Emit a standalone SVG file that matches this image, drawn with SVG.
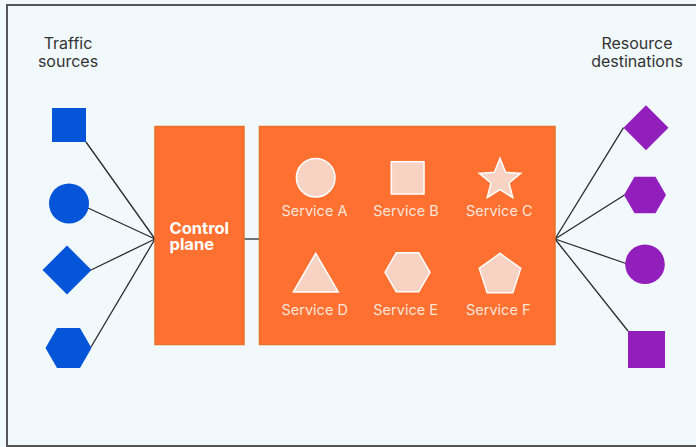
<svg xmlns="http://www.w3.org/2000/svg" width="696" height="447" viewBox="0 0 696 447">
<style>
.lbl{font-family:Inter,"Liberation Sans",sans-serif;font-size:16px;fill:#333;text-anchor:middle}
.svc{font-family:Inter,"Liberation Sans",sans-serif;font-size:14.5px;fill:#fde4d9}
.cp{font-family:Inter,"Liberation Sans",sans-serif;font-size:16.5px;font-weight:700;fill:#fff}
.src{fill:#0455d8}
.dst{fill:#921fbb}
.box{fill:#ff7031;stroke:#e8722a;stroke-width:1.5}
.shp{fill:#f8d3c3;stroke:#fff;stroke-width:1.5}
.ln{stroke:#2a2a2a;stroke-width:1.3;fill:none}
</style>
<rect x="0" y="0" width="696" height="447" fill="#f1f9fc"/>
<rect x="7" y="5" width="700" height="441" fill="#f1f9fc" stroke="#555" stroke-width="2"/>
<g id="title-sources"><text class="lbl" x="68" y="48.5">Traffic</text><text class="lbl" x="68" y="67">sources</text></g>
<g id="title-destinations"><text class="lbl" x="637" y="48.5">Resource</text><text class="lbl" x="637" y="67">destinations</text></g>
<g id="connectors">
<line class="ln" x1="86" y1="142" x2="155" y2="239"/>
<line class="ln" x1="88" y1="208" x2="155" y2="239"/>
<line class="ln" x1="91" y1="270" x2="155" y2="239"/>
<line class="ln" x1="91" y1="347" x2="155" y2="239"/>
<line class="ln" x1="244" y1="239" x2="260" y2="239"/>
<line class="ln" x1="555" y1="239" x2="623.5" y2="127.7"/>
<line class="ln" x1="555" y1="239" x2="624.5" y2="195"/>
<line class="ln" x1="555" y1="239" x2="626" y2="263.5"/>
<line class="ln" x1="555" y1="239" x2="628" y2="331"/>
</g>
<g id="src-square"><rect class="src" x="52" y="108" width="34" height="34"/></g>
<g id="src-circle"><circle class="src" cx="69" cy="203.5" r="20"/></g>
<g id="src-diamond"><polygon class="src" points="67,245.5 91.5,270 67,294.5 42.5,270"/></g>
<g id="src-hexagon"><polygon class="src" points="45.5,348 57,328.1 80,328.1 91.5,348 80,367.9 57,367.9"/></g>
<g id="control-plane"><rect class="box" x="155" y="126.5" width="89" height="218"/><text class="cp" x="169.5" y="233.5">Control</text><text class="cp" x="169.5" y="249.5">plane</text></g>
<g id="services"><rect class="box" x="259.5" y="126.5" width="295.5" height="218"/></g>
<g id="service-a"><circle class="shp" cx="315.7" cy="177.7" r="19.3"/><text class="svc" x="281.5" y="216">Service A</text></g>
<g id="service-b"><rect class="shp" x="391.3" y="161.7" width="32.7" height="32.3"/><text class="svc" x="373.3" y="216">Service B</text></g>
<g id="service-c"><polygon class="shp" points="500,158.3 505.58,172.31 520.64,173.29 509.03,182.94 512.76,197.56 500,189.5 487.24,197.56 490.97,182.94 479.36,173.29 494.42,172.31"/><text class="svc" x="466" y="216">Service C</text></g>
<g id="service-d"><polygon class="shp" points="315.7,253.3 338.3,292 293.3,292"/><text class="svc" x="281.5" y="315">Service D</text></g>
<g id="service-e"><polygon class="shp" points="385,272.3 396.25,252.8 418.75,252.8 430,272.3 418.75,291.8 396.25,291.8"/><text class="svc" x="373.3" y="315">Service E</text></g>
<g id="service-f"><polygon class="shp" points="500,253.3 520.73,268.36 512.81,292.74 487.19,292.74 479.27,268.36"/><text class="svc" x="466" y="315">Service F</text></g>
<g id="dst-diamond"><polygon class="dst" points="646,105.2 668.5,127.7 646,150.2 623.5,127.7"/></g>
<g id="dst-hexagon"><polygon class="dst" points="624,195 634.5,176.8 655.5,176.8 666,195 655.5,213.2 634.5,213.2"/></g>
<g id="dst-circle"><circle class="dst" cx="645" cy="264.3" r="19.8"/></g>
<g id="dst-square"><rect class="dst" x="628" y="331" width="37" height="37"/></g>
</svg>
